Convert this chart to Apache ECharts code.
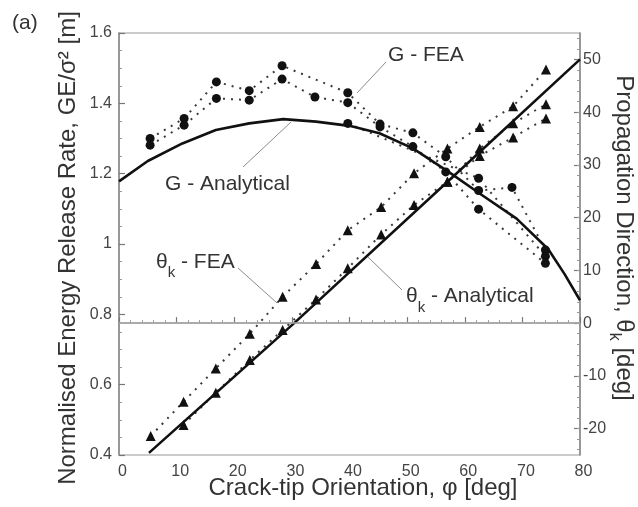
<!DOCTYPE html>
<html>
<head>
<meta charset="utf-8">
<script src="https://cdn.jsdelivr.net/npm/echarts@6/dist/echarts.min.js"></script>
<style>
  html, body { margin: 0; padding: 0; background: #fff; }
  #chart { width: 638px; height: 507px; }
</style>
</head>
<body>
<div id="chart"></div>
<script>
// ---- G, analytical solution (left axis) ----
const gAnalPhi = [0, 5, 11, 16.8, 22.6, 28.5, 34.2, 40, 45.2, 51, 57.2, 62.9, 69, 74.5, 77.3, 80];
const gAnalVal = [1.178, 1.236, 1.286, 1.324, 1.343, 1.355, 1.348, 1.336, 1.315, 1.272, 1.205, 1.14, 1.072, 0.985, 0.915, 0.84];

// ---- G, finite element results (left axis) ----
const gFeaAPhi = [5.4, 11.3, 16.9, 22.6, 28.3, 39.7, 45.3, 51, 56.7, 62.4, 68.2, 74];
const gFeaAVal = [1.300, 1.357, 1.461, 1.436, 1.507, 1.430, 1.341, 1.316, 1.248, 1.152, 1.161, 0.983];
const gFeaBPhi = [5.4, 11.3, 16.9, 22.6, 28.3, 34, 39.7, 45.3, 51, 56.7, 62.4, 74];
const gFeaBVal = [1.281, 1.338, 1.414, 1.409, 1.469, 1.418, 1.402, 1.333, 1.277, 1.205, 1.099, 0.945];
const gFeaCPhi = [39.7, 62.4, 74];
const gFeaCVal = [1.343, 1.187, 0.965];

// ---- Propagation direction, analytical (right axis) ----
const thAnalPhi = [5.2, 30.4, 57.2, 80];
const thAnalVal = [-24.6, 0, 27, 50];

// ---- Propagation direction, finite element results (right axis) ----
const thFeaAPhi = [5.5, 11.2, 16.8, 22.7, 28.4, 34.2, 39.7, 45.5, 51.2, 57, 62.6, 68.4, 74.1];
const thFeaAVal = [-21.4, -14.9, -8.6, -2.0, 5.0, 11.2, 17.6, 22.0, 28.4, 33.1, 37.2, 41.1, 48.1];
const thFeaBPhi = [11.2, 16.8, 22.7, 28.4, 34.2, 39.7, 45.5, 51.2, 57, 62.6, 68.4, 74.1];
const thFeaBVal = [-19.3, -13.2, -7.0, -1.3, 4.5, 10.4, 16.8, 22.4, 26.8, 33.1, 37.9, 41.5];
const thFeaCPhi = [57, 62.6, 68.4, 74.1];
const thFeaCVal = [26.8, 31.7, 35.2, 38.8];

// ---- Axis tick labels ----
const rightTicks = [-20, -10, 0, 10, 20, 30, 40, 50];

const pairs = (xs, ys) => xs.map((x, i) => [x, ys[i]]);

const FONT = '"Liberation Sans", Arial, sans-serif';
const INK = '#333';

const canvas = document.createElement('canvas');
const ctx = canvas.getContext('2d');
function textWidth(t, size) { ctx.font = size + 'px ' + FONT; return ctx.measureText(t).width; }

// Builds a text run made of several pieces (for subscripts), centred on (cx, cy).
function textRun(parts, cx, cy, rotation, anchor) {
  const widths = parts.map(p => textWidth(p.text, p.size));
  const total = widths.reduce((a, b) => a + b, 0);
  let x = anchor === 'left' ? 0 : -total / 2;
  const children = parts.map((p, i) => {
    const el = {
      type: 'text', x: x, y: p.dy || 0,
      style: { text: p.text, font: p.size + 'px ' + FONT, fill: INK,
               textAlign: 'left', textVerticalAlign: 'middle' },
      silent: true
    };
    x += widths[i];
    return el;
  });
  return { type: 'group', x: cx, y: cy, rotation: rotation || 0, children: children, silent: true };
}

function leader(x1, y1, x2, y2) {
  return { type: 'line', shape: { x1, y1, x2, y2 },
           style: { stroke: '#8c8c8c', lineWidth: 1 }, silent: true };
}

const feaLine = { type: [2, 6], width: 2, color: '#3a3a3a' };

function feaSeries(name, data, yIdx, symbol, size) {
  return {
    name, type: 'line', yAxisIndex: yIdx, data,
    symbol, symbolSize: size, showSymbol: true,
    itemStyle: { color: '#111' },
    lineStyle: feaLine, z: 3, animation: false
  };
}

const chart = echarts.init(document.getElementById('chart'), null, { renderer: 'canvas' });

chart.setOption({
  backgroundColor: '#fff',
  animation: false,
  textStyle: { fontFamily: FONT },
  grid: { left: 119, right: 58, top: 33, bottom: 52, show: true,
          borderColor: '#9a9a9a', borderWidth: 1.2, backgroundColor: 'transparent' },
  xAxis: {
    type: 'value', min: 0, max: 80, interval: 10,
    axisLine: { show: true, lineStyle: { color: '#8a8a8a', width: 1.5 } },
    axisTick: { show: true, inside: true, length: 6, lineStyle: { color: '#777', width: 1.2 } },
    minorTick: { show: true, splitNumber: 5, length: 3, lineStyle: { color: '#999' } },
    splitLine: { show: false },
    axisLabel: { fontSize: 16, color: '#444', margin: 9, padding: [0, 0, 0, 7] }
  },
  yAxis: [
    {
      type: 'value', position: 'left', min: 0.4, max: 1.6, interval: 0.2,
      axisLine: { show: true, lineStyle: { color: '#8a8a8a', width: 1.5 } },
      axisTick: { show: true, inside: true, length: 6, lineStyle: { color: '#777', width: 1.2 } },
      minorTick: { show: true, splitNumber: 4, length: 3, lineStyle: { color: '#999' } },
      splitLine: { show: false },
      axisLabel: { fontSize: 16, color: '#444', margin: 7 }
    },
    {
      type: 'value', position: 'right', min: -25, max: 55,
      axisLine: { show: true, lineStyle: { color: '#8a8a8a', width: 1.5 } },
      axisTick: { show: true, inside: true, length: 6, customValues: rightTicks,
                  lineStyle: { color: '#777', width: 1.2 } },
      splitLine: { show: false },
      axisLabel: { fontSize: 16, color: '#444', margin: 3, customValues: rightTicks,
                   padding: [0, 0, 10, 0] }
    },
    {
      // finer 2-degree ticks on the right-hand axis
      type: 'value', position: 'right', min: -25, max: 55,
      axisLine: { show: false },
      axisTick: { show: true, inside: true, length: 3,
                  customValues: Array.from({ length: 40 }, (_, i) => -24 + 2 * i),
                  lineStyle: { color: '#999' } },
      axisLabel: { show: false },
      splitLine: { show: false }
    }
  ],
  series: [
    feaSeries('G - FEA a', pairs(gFeaAPhi, gFeaAVal), 0, 'circle', 9),
    feaSeries('G - FEA b', pairs(gFeaBPhi, gFeaBVal), 0, 'circle', 9),
    feaSeries('G - FEA c', pairs(gFeaCPhi, gFeaCVal), 0, 'circle', 9),
    feaSeries('θk - FEA a', pairs(thFeaAPhi, thFeaAVal), 1, 'triangle', 10),
    feaSeries('θk - FEA b', pairs(thFeaBPhi, thFeaBVal), 1, 'triangle', 10),
    feaSeries('θk - FEA c', pairs(thFeaCPhi, thFeaCVal), 1, 'triangle', 10),
    {
      name: 'G - Analytical', type: 'line', yAxisIndex: 0,
      data: pairs(gAnalPhi, gAnalVal), showSymbol: false,
      lineStyle: { color: '#111', width: 2.6, join: 'round' }, z: 4
    },
    {
      name: 'θk - Analytical', type: 'line', yAxisIndex: 1,
      data: pairs(thAnalPhi, thAnalVal), showSymbol: false,
      lineStyle: { color: '#111', width: 2.6 }, z: 4,
      markLine: {
        silent: true, symbol: 'none', label: { show: false },
        lineStyle: { color: '#ababab', width: 1.5, type: 'solid' },
        data: [{ yAxis: 0 }]
      }
    }
  ],
  graphic: [
    textRun([{ text: '(a)', size: 21 }], 12, 23, 0, 'left'),
    // axis titles
    textRun([{ text: 'Crack-tip Orientation, φ [deg]', size: 24 }], 363, 488, 0),
    textRun([{ text: 'Normalised Energy Release Rate, GE/σ² [m]', size: 24 }], 68, 248, Math.PI / 2),
    textRun([
      { text: 'Propagation Direction, θ', size: 24 },
      { text: 'k', size: 16, dy: 10 },
      { text: ' [deg]', size: 24 }
    ], 624, 238, -Math.PI / 2),
    // curve annotations
    textRun([{ text: 'G - FEA', size: 21 }], 388, 55, 0, 'left'),
    leader(386, 62, 357, 93),
    textRun([{ text: 'G - Analytical', size: 21 }], 165, 184, 0, 'left'),
    leader(243, 167, 291, 122),
    textRun([
      { text: 'θ', size: 21 },
      { text: 'k', size: 15, dy: 11 },
      { text: ' - FEA', size: 21 }
    ], 156, 262, 0, 'left'),
    leader(238, 268, 277, 303),
    textRun([
      { text: 'θ', size: 21 },
      { text: 'k', size: 15, dy: 12 },
      { text: ' - Analytical', size: 21 }
    ], 406, 296, 0, 'left'),
    leader(402, 290, 368, 257)
  ]
});
</script>
</body>
</html>
